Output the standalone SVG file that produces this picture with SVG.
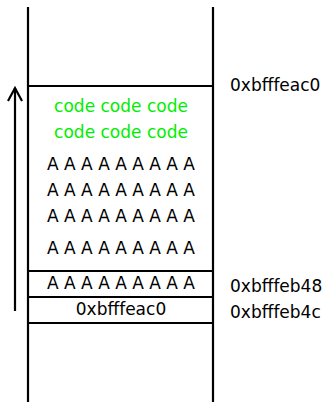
<svg xmlns="http://www.w3.org/2000/svg" width="323" height="402" viewBox="0 0 323 402">
<style>
.l{stroke:#000;stroke-width:2.2;fill:none}
.t{font-family:"DejaVu Sans",sans-serif;font-size:17px;fill:#000}
.c{text-anchor:middle}
.g{fill:#00ee00}
</style>
<rect width="323" height="402" fill="#fff"/>
<g id="stack">
<line class="l" x1="28" y1="7" x2="28" y2="402"/>
<line class="l" x1="213" y1="7" x2="213" y2="402"/>
<line class="l" x1="28" y1="86" x2="213" y2="86"/>
<line class="l" x1="28" y1="271" x2="213" y2="271"/>
<line class="l" x1="28" y1="297" x2="213" y2="297"/>
<line class="l" x1="28" y1="323" x2="213" y2="323"/>
</g>
<g id="buffer">
<text class="t c g" x="121" y="112">code code code</text>
<text class="t c g" x="121" y="138">code code code</text>
<text class="t c" x="121" y="170">A A A A A A A A A</text>
<text class="t c" x="121" y="196">A A A A A A A A A</text>
<text class="t c" x="121" y="222">A A A A A A A A A</text>
<text class="t c" x="121" y="254">A A A A A A A A A</text>
</g>
<g id="ebp">
<text class="t c" x="121" y="289">A A A A A A A A A</text>
</g>
<g id="ret">
<text class="t c" x="121" y="315">0xbfffeac0</text>
</g>
<g id="labels">
<text class="t" x="230" y="91">0xbfffeac0</text>
<text class="t" x="230" y="292">0xbfffeb48</text>
<text class="t" x="230" y="318">0xbfffeb4c</text>
</g>
<g id="connectors">
<line class="l" x1="15" y1="311" x2="15" y2="88"/>
<polyline class="l" points="8,101 15,88 22,101"/>
</g>
</svg>
